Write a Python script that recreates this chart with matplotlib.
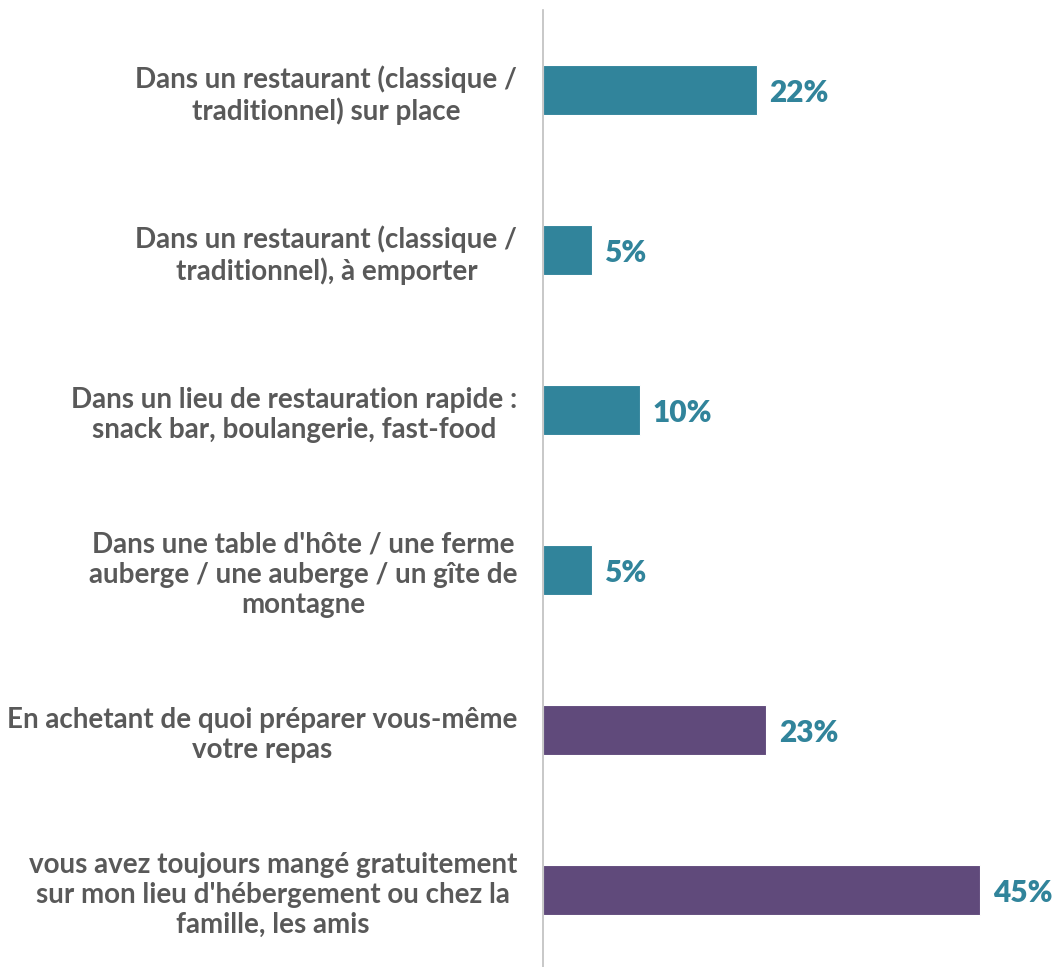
import matplotlib
matplotlib.use("Agg")
import matplotlib.pyplot as plt

categories = [
    "Dans un restaurant (classique /\ntraditionnel) sur place",
    "Dans un restaurant (classique /\ntraditionnel), à emporter",
    "Dans un lieu de restauration rapide :\nsnack bar, boulangerie, fast-food",
    "Dans une table d'hôte / une ferme\nauberge / une auberge / un gîte de\nmontagne",
    "En achetant de quoi préparer vous-même\nvotre repas",
    "vous avez toujours mangé gratuitement\nsur mon lieu d'hébergement ou chez la\nfamille, les amis",
]
values = [22, 5, 10, 5, 23, 45]
bar_colors = ["#31849B", "#31849B", "#31849B", "#31849B", "#604A7B", "#604A7B"]
label_color = "#31849B"
text_color = "#595959"

plt.rcParams['font.family'] = ['Lato', 'DejaVu Sans']

fig = plt.figure(figsize=(10.56, 9.67), dpi=100)
ax = fig.add_axes([543/1056, 0, 513/1056, 957/967])

ypos = list(range(len(categories)))
ax.barh(ypos, values, height=0.31, color=bar_colors, edgecolor="white", linewidth=0.8)
ax.set_xlim(0, 52.8)
ax.set_ylim(5.48, -0.5)

ax.set_yticks(ypos)
ax.set_yticklabels(categories, fontsize=20, fontweight='bold', color=text_color,
                   ha='right', multialignment='center', linespacing=1.2)
ax.tick_params(axis='y', length=0, pad=18.5)
ax.set_xticks([])

for s in ['top', 'right', 'bottom']:
    ax.spines[s].set_visible(False)
ax.spines['left'].set_color('#BFBFBF')
ax.spines['left'].set_linewidth(1.2)

for y, v in zip(ypos, values):
    ax.text(v + 1.3, y + 0.02, f"{v}%", va='center', ha='left', fontsize=21.5,
            fontweight='heavy', color=label_color)

fig.savefig("out.png", dpi=100)
